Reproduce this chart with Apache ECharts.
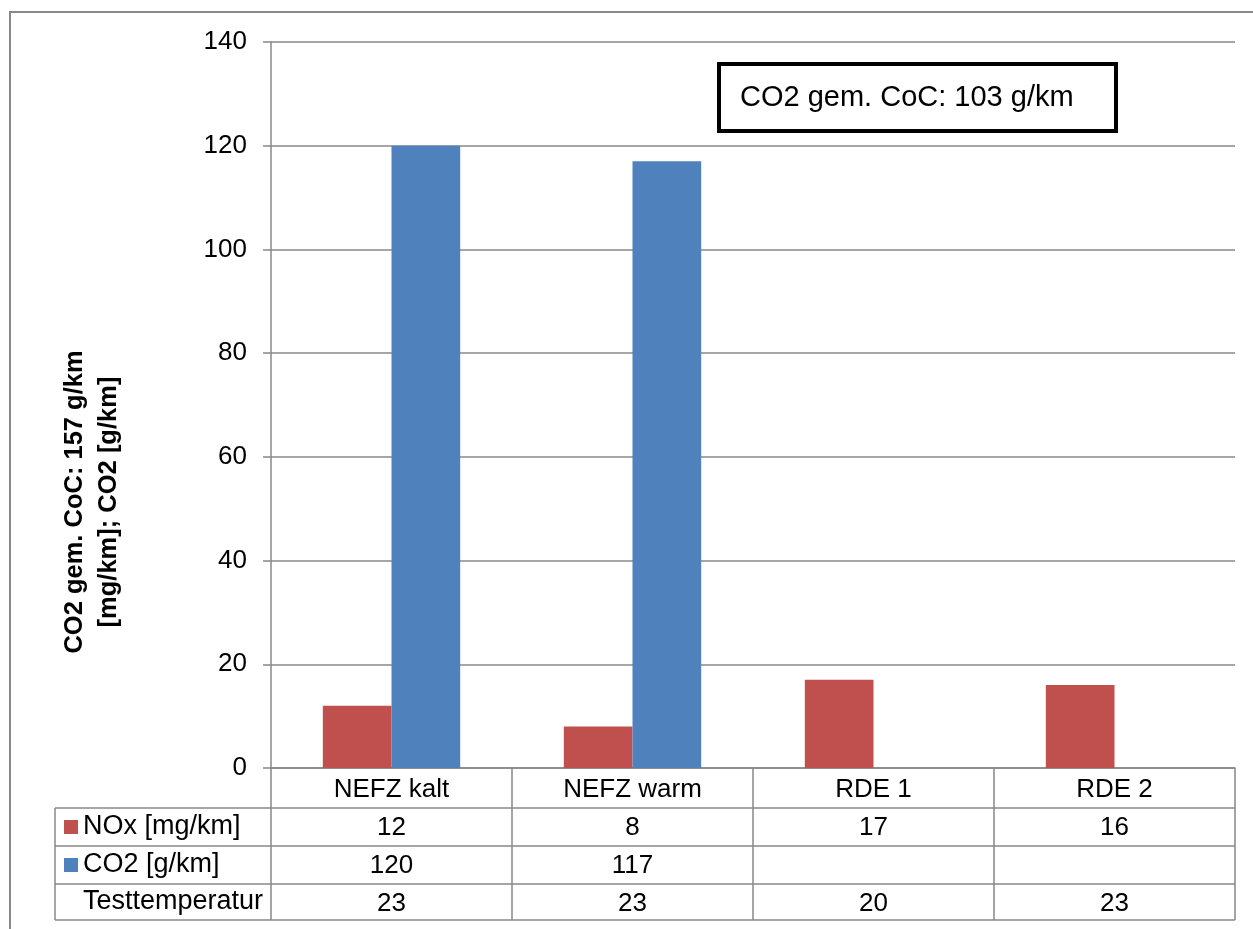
<!DOCTYPE html>
<html>
<head>
<meta charset="utf-8">
<script src="https://cdn.jsdelivr.net/npm/echarts@6/dist/echarts.min.js"></script>
<style>
  html, body { margin: 0; padding: 0; background: #fff; }
  #chart { width: 1253px; height: 929px; }
</style>
</head>
<body>
<div id="chart"></div>
<script>
// Test cycles and measured values
const categories = ['NEFZ kalt', 'NEFZ warm', 'RDE 1', 'RDE 2'];
const noxValues = [12, 8, 17, 16];          // NOx [mg/km]
const co2Values = [120, 117, null, null];   // CO2 [g/km]
const testTemps = [23, 23, 20, 23];         // Testtemperatur
const yMin = 0, yMax = 140, yStep = 20;

const seriesNames = ['NOx [mg/km]', 'CO2 [g/km]', 'Testtemperatur'];
const colors = ['#C0504D', '#4F81BD'];
const gridColor = '#888888';
const FONT = 'Liberation Sans, Arial, sans-serif';

const chart = echarts.init(document.getElementById('chart'), null, { renderer: 'canvas' });

const cell = v => (v === null || v === undefined) ? ' ' : String(v);

// table rows below the plot: category, then one row per data series
const tableTop = 768, rowH = [40, 38, 38, 36];
const rowY = [];
{ let y = tableTop; for (const h of rowH) { y += h; rowY.push(y); } }

const lineStyle = { stroke: gridColor, lineWidth: 1.5 };
const tableLines = rowY.map(y => ({ type: 'line', shape: { x1: 55, y1: y, x2: 1235, y2: y }, style: lineStyle }));
tableLines.push({ type: 'line', shape: { x1: 55, y1: rowY[0], x2: 55, y2: rowY[3] }, style: lineStyle });

const legendCells = [];
seriesNames.forEach((name, i) => {
  const cy = (rowY[i] + rowY[i + 1]) / 2;
  if (i < 2) {
    legendCells.push({ type: 'rect', shape: { x: 64, y: cy - 7, width: 14, height: 14 }, style: { fill: colors[i] } });
  }
  legendCells.push({
    type: 'text', x: 83, y: cy,
    style: { text: name, font: '27px ' + FONT, fill: '#000', textVerticalAlign: 'middle', verticalAlign: 'middle' }
  });
});

chart.setOption({
  animation: false,
  backgroundColor: '#fff',
  grid: { left: 271, right: 18, top: 42, bottom: 161 },
  xAxis: {
    type: 'category',
    data: categories,
    axisLine: { show: true, lineStyle: { color: gridColor, width: 1.5 } },
    axisTick: { show: true, inside: false, length: 152, alignWithLabel: false, lineStyle: { color: gridColor, width: 1.5 } },
    axisLabel: {
      margin: 3,
      color: '#000',
      fontFamily: FONT,
      fontSize: 26,
      lineHeight: 38,
      interval: 0,
      formatter: (v, i) => [v, cell(noxValues[i]), cell(co2Values[i]), cell(testTemps[i])].join('\n')
    }
  },
  yAxis: {
    type: 'value',
    min: yMin, max: yMax, interval: yStep,
    axisLine: { show: true, lineStyle: { color: gridColor, width: 1.5 } },
    axisTick: { show: true, length: 8, lineStyle: { color: gridColor, width: 1.5 } },
    axisLabel: { margin: 24, color: '#000', fontFamily: FONT, fontSize: 26 },
    splitLine: { show: true, lineStyle: { color: gridColor, width: 1.5 } }
  },
  series: [
    { name: seriesNames[0], type: 'bar', data: noxValues, itemStyle: { color: colors[0] }, barGap: '0%', barCategoryGap: '43%' },
    { name: seriesNames[1], type: 'bar', data: co2Values, itemStyle: { color: colors[1] }, barGap: '0%', barCategoryGap: '43%' }
  ],
  graphic: [
    // outer chart frame
    { type: 'rect', shape: { x: 10, y: 12, width: 1300, height: 1000 }, style: { fill: 'none', stroke: '#898989', lineWidth: 2 }, z: 0 },
    // annotation box
    { type: 'rect', shape: { x: 719, y: 64, width: 397, height: 67 }, style: { fill: '#fff', stroke: '#000', lineWidth: 4 }, z: 10 },
    { type: 'text', x: 740, y: 98, z: 11,
      style: { text: 'CO2 gem. CoC: 103 g/km', font: '29px ' + FONT, fill: '#000', textVerticalAlign: 'middle', verticalAlign: 'middle' } },
    // y axis title
    { type: 'text', x: 92, y: 502, rotation: Math.PI / 2, z: 11,
      style: { text: 'CO2 gem. CoC: 157 g/km\n[mg/km]; CO2 [g/km]', font: 'bold 25.5px ' + FONT, fill: '#000',
               textAlign: 'center', align: 'center', textVerticalAlign: 'middle', verticalAlign: 'middle', lineHeight: 34 } },
    ...tableLines,
    ...legendCells
  ]
});
</script>
</body>
</html>
